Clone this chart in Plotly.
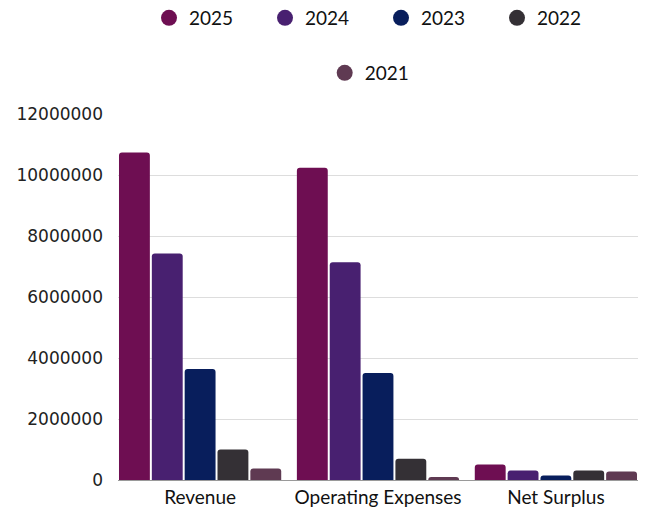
import plotly.graph_objects as go

categories = ["Revenue", "Operating Expenses", "Net Surplus"]
years = ["2025", "2024", "2023", "2022", "2021"]
v2025 = [10740000, 10240000, 510000]
v2024 = [7430000, 7140000, 310000]
v2023 = [3640000, 3510000, 150000]
v2022 = [1000000, 700000, 310000]
v2021 = [380000, 100000, 280000]
series = [v2025, v2024, v2023, v2022, v2021]
colors = ["#6E0E52", "#482070", "#081E5C", "#343035", "#5F3A52"]
y_ticks = [0, 2000000, 4000000, 6000000, 8000000, 10000000, 12000000]

fig = go.Figure()
for name, vals, col in zip(years, series, colors):
    fig.add_trace(go.Bar(x=categories, y=vals, name=name, marker_color=col,
                         marker_line_width=0, showlegend=False))
for i, (name, col) in enumerate(zip(years, colors)):
    fig.add_trace(go.Scatter(x=[None], y=[None], mode="markers", name=name,
                             marker=dict(symbol="circle", size=22, color=col),
                             legend="legend" if i < 4 else "legend2"))

legend_common = dict(orientation="h", font=dict(family="Lato", size=19, color="#111"),
                     entrywidth=71, entrywidthmode="pixels", bgcolor="rgba(0,0,0,0)",
                     xref="container", yref="container", xanchor="left", yanchor="middle")

fig.update_layout(
    width=649, height=513,
    margin=dict(l=118, r=11, t=114, b=33, autoexpand=False),
    paper_bgcolor="white", plot_bgcolor="white",
    barmode="group", bargap=0.077, bargroupgap=0.06, barcornerradius=3,
    legend=dict(x=0.2296, y=0.9649, **legend_common),
    legend2=dict(x=0.5003, y=0.8577, **legend_common),
    xaxis=dict(range=[-0.4615, 2.4615], showgrid=False, showline=True,
               linecolor="#9a9a9a", linewidth=1, ticks="",
               tickfont=dict(family="Lato", size=19, color="#111")),
    yaxis=dict(range=[0, 12000000], tickvals=y_ticks, ticktext=[str(v) for v in y_ticks],
               showgrid=True, gridcolor="#dddddd", gridwidth=1, zeroline=False,
               showline=False, ticklabelstandoff=14,
               tickfont=dict(family="DejaVu Sans", size=17, color="#222")),
)
fig.write_html("out.html", config={"displayModeBar": False},
               post_script="document.body.style.margin='0';")
